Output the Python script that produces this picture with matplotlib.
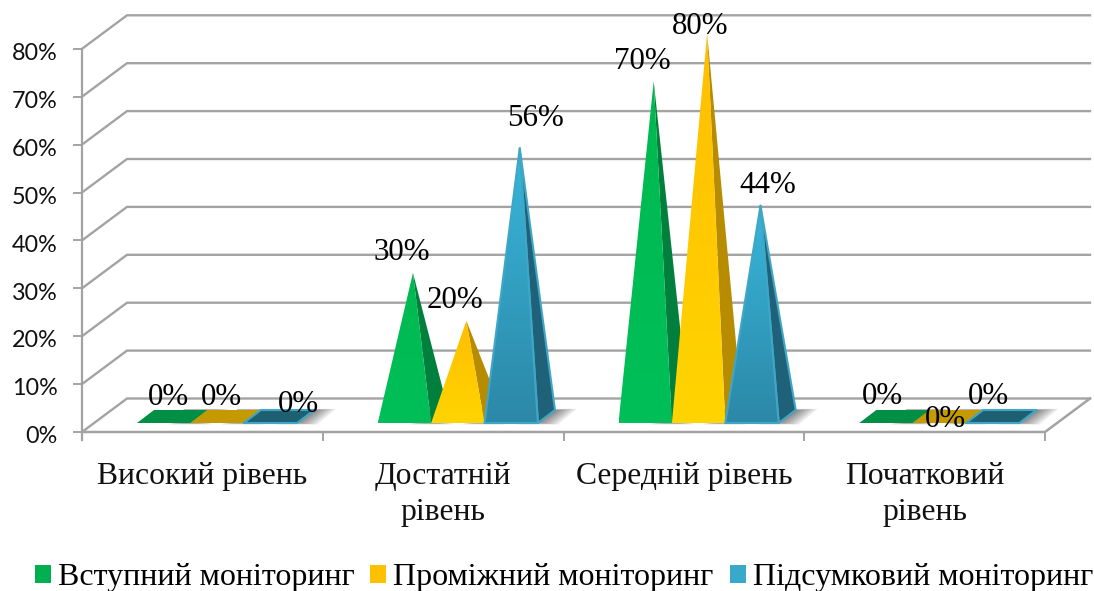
import matplotlib

matplotlib.use("Agg")
import matplotlib.pyplot as plt
from matplotlib.colors import LinearSegmentedColormap
from matplotlib.patches import Patch, Polygon
import numpy as np

plt.rcParams["font.family"] = ["Liberation Serif", "DejaVu Serif"]

# Values (percent)
categories = ["Високий рівень", "Достатній\nрівень", "Середній рівень", "Початковий\nрівень"]
series_names = ["Вступний моніторинг", "Проміжний моніторинг", "Підсумковий моніторинг"]
vstupnyi = [0, 30, 70, 0]
promizhnyi = [0, 20, 80, 0]
pidsumkovyi = [0, 56, 44, 0]
y_ticks = [0, 10, 20, 30, 40, 50, 60, 70, 80]

# Scale: one category is 240.75 px wide, 1% is 4.79 px high
W, H = 1094, 591
CAT_PX, PCT_PX = 240.75, 4.79
X0_PX, Y0_PX = 82, 432

# Depth of the 3D box and of the pyramid footprints, data units
DEPTH_X, DEPTH_Y = 45 / CAT_PX, 33.5 / PCT_PX
FOOT_X, FOOT_Y = 17 / CAT_PX, 13 / PCT_PX
BAR_W = 53.4 / CAT_PX
GROUP_START = 55 / CAT_PX
BASE_Y = 9 / PCT_PX

GRID = "#a3a3a3"
series_style = [
    {"top": "#00b850", "bottom": "#00bf58", "side": "#00803c", "flat": "#008f45", "edge": None},
    {"top": "#ffbe00", "bottom": "#ffd400", "side": "#b88c00", "flat": "#c49a00", "edge": None},
    {"top": "#38b6da", "bottom": "#2c88a8", "side": "#1f6178", "flat": "#1f5f72", "edge": "#3fa6c6"},
]
legend_colors = ["#00b050", "#ffc000", "#38a9c9"]

# Label offsets from each apex, px
label_offsets = [
    [(-4, 19), (-4, 19), (19, 12)],
    [(-11, 20), (-11, 20), (16, 30)],
    [(-11, 20), (-7, 7), (7, 20)],
    [(-12, 20), (-2, -3), (-13, 20)],
]

fig = plt.figure(figsize=(W / 100, H / 100), dpi=100)
ax = fig.add_axes([0, 0, 1, 1])
ax.set_xlim(-X0_PX / CAT_PX, (W - X0_PX) / CAT_PX)
ax.set_ylim((Y0_PX - H) / PCT_PX, Y0_PX / PCT_PX)
ax.axis("off")

n_cat = len(categories)

# Box: grid lines along the left and back walls
for v in y_ticks:
    ax.plot([0, DEPTH_X, n_cat + DEPTH_X], [v, v + DEPTH_Y, v + DEPTH_Y],
            color=GRID, lw=1.7, zorder=1, solid_joinstyle="miter")
    ax.plot([-8 / CAT_PX, 0], [v, v], color=GRID, lw=1.4, zorder=1)
    ax.text(-24.5 / CAT_PX, v - 1.0, f"{v}%", ha="right", va="center", fontsize=16.8,
            family=["Lato", "DejaVu Sans"], color="#111111")

# Floor and axis lines
ax.plot([0, n_cat, n_cat + DEPTH_X], [0, 0, DEPTH_Y], color=GRID, lw=1.8, zorder=1)
ax.plot([0, 0], [-8 / PCT_PX, y_ticks[-1]], color=GRID, lw=1.6, zorder=1)
for i in range(n_cat + 1):
    ax.plot([i, i], [0, -8 / PCT_PX], color=GRID, lw=1.4, zorder=1)


def draw_pyramid(x, value, style, z):
    fl = (x, BASE_Y)
    fr = (x + BAR_W, BASE_Y)
    br = (x + BAR_W + FOOT_X, BASE_Y + FOOT_Y)
    bl = (x + FOOT_X, BASE_Y + FOOT_Y)
    apex = (x + (BAR_W + FOOT_X) / 2, BASE_Y + FOOT_Y / 2 + value)
    edge = style["edge"] or "none"

    # soft shadow on the floor, to the right of the footprint
    for k in range(7):
        ax.add_patch(Polygon(
            [(fr[0] - (4 + k * 3) / CAT_PX, fr[1] - k * 0.25 / PCT_PX),
             (fr[0] + (2 + k * 3) / CAT_PX, fr[1] - k * 0.25 / PCT_PX),
             (br[0] + (4 + k * 3) / CAT_PX, br[1] + k * 0.2 / PCT_PX),
             (bl[0] + 30 / CAT_PX, bl[1] + k * 0.2 / PCT_PX)],
            closed=True, fc="black", ec="none", alpha=0.08, zorder=z))

    if value == 0:
        ax.add_patch(Polygon([fl, fr, br, bl], closed=True, fc=style["flat"],
                             ec=edge, lw=1.5, joinstyle="round", zorder=z + 0.1))
        return

    ax.add_patch(Polygon([fr, br, apex], closed=True, fc=style["side"],
                         ec=edge, lw=1.5, joinstyle="round", zorder=z + 0.1))
    front = Polygon([fl, fr, apex], closed=True, fc="none",
                    ec=edge, lw=1.5, joinstyle="round", zorder=z + 0.3)
    ax.add_patch(front)
    cmap = LinearSegmentedColormap.from_list("face", [style["bottom"], style["top"]])
    im = ax.imshow(np.linspace(1, 0, 64).reshape(-1, 1), cmap=cmap, aspect="auto",
                   extent=(fl[0], fr[0], BASE_Y, apex[1]), zorder=z + 0.2,
                   interpolation="bilinear")
    im.set_clip_path(front)


all_series = [vstupnyi, promizhnyi, pidsumkovyi]
for s, values in enumerate(all_series):
    for i, value in enumerate(values):
        x = i + GROUP_START + s * BAR_W
        draw_pyramid(x, value, series_style[s], 2 + s)

# restore limits after imshow
ax.set_xlim(-X0_PX / CAT_PX, (W - X0_PX) / CAT_PX)
ax.set_ylim((Y0_PX - H) / PCT_PX, Y0_PX / PCT_PX)

# Data labels
for s, values in enumerate(all_series):
    for i, value in enumerate(values):
        x = i + GROUP_START + s * BAR_W + (BAR_W + FOOT_X) / 2
        y = BASE_Y + FOOT_Y / 2 + value
        ax.annotate(f"{value}%", (x, y), xytext=label_offsets[i][s], textcoords="offset pixels",
                    ha="center", va="center", fontsize=22.3, color="black", zorder=10)

# Category labels
for i, name in enumerate(categories):
    ax.text(i + 0.5, -30 / PCT_PX, name, ha="center", va="top", fontsize=22.8,
            linespacing=1.31, color="#111111", zorder=10)

handles = [Patch(fc=c, ec="none") for c in legend_colors]
ax.legend(handles, series_names, ncol=3, loc="lower center", bbox_to_anchor=(0.5155, -0.002),
          frameon=False, fontsize=23, handlelength=0.5, handleheight=0.5,
          handletextpad=0.22, columnspacing=0.5, borderpad=0, borderaxespad=0)

fig.savefig("out.png", dpi=100)
